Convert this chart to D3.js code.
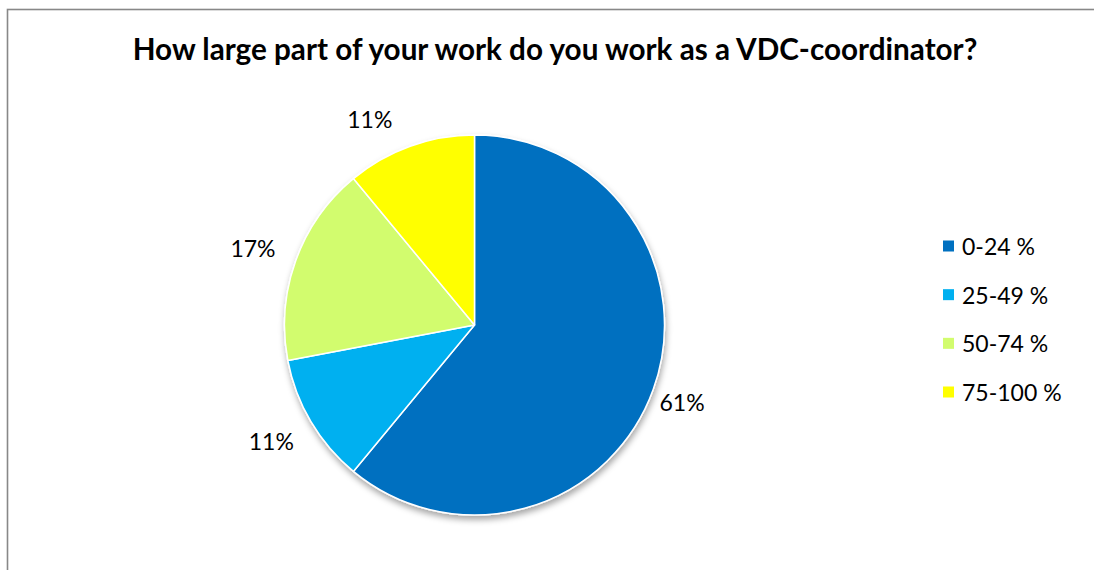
<!DOCTYPE html>
<html>
<head>
<meta charset="utf-8">
<script src="https://cdn.jsdelivr.net/npm/d3@7"></script>
<style>
  html, body { margin: 0; padding: 0; background: #fff; }
  svg { display: block; }
</style>
</head>
<body>
<svg id="chart" width="1094" height="570"></svg>
<script>
// Share of working time spent as VDC-coordinator
const categories = ["0-24 %", "25-49 %", "50-74 %", "75-100 %"];
const shares = [61, 11, 17, 11];
const sliceColors = ["#0070C0", "#00B0F0", "#D2FC6E", "#FFFF00"];
const titleText = "How large part of your work do you work as a VDC-coordinator?";

const W = 1094, H = 570;
const svg = d3.select("#chart");
const FONT = "Lato, 'Open Sans', sans-serif";

// chart area frame (runs off the right and bottom of the view)
svg.append("rect")
  .attr("x", 7.5).attr("y", 9.5)
  .attr("width", W + 20).attr("height", H + 20)
  .attr("fill", "#fff")
  .attr("stroke", "#888").attr("stroke-width", 1.6);

// title, sized to span its box
const title = svg.append("text")
  .attr("x", 555).attr("y", 60)
  .attr("text-anchor", "middle")
  .attr("font-family", FONT)
  .attr("font-weight", 700)
  .attr("font-size", 26)
  .attr("fill", "#000")
  .text(titleText);
{
  const w = title.node().getComputedTextLength();
  title.attr("font-size", 26 * 845 / w);
}

// drop shadow for the pie
const defs = svg.append("defs");
const f = defs.append("filter").attr("id", "pieShadow")
  .attr("x", "-10%").attr("y", "-10%").attr("width", "130%").attr("height", "130%");
f.append("feDropShadow")
  .attr("dx", 1).attr("dy", 4)
  .attr("stdDeviation", 3)
  .attr("flood-color", "#000").attr("flood-opacity", 0.35);

const cx = 474.5, cy = 325, radius = 190;
const pie = d3.pie().sort(null).value(d => d)(shares);
const arc = d3.arc().innerRadius(0).outerRadius(radius);
const color = d3.scaleOrdinal().domain(categories).range(sliceColors);

const g = svg.append("g").attr("transform", `translate(${cx},${cy})`);
g.append("g").attr("filter", "url(#pieShadow)")
  .selectAll("path")
  .data(pie)
  .join("path")
  .attr("d", arc)
  .attr("fill", (d, i) => color(categories[i]))
  .attr("stroke", "#fff")
  .attr("stroke-width", 1.5)
  .attr("stroke-linejoin", "round");

// data labels outside each slice
const labelR = 228, labelShiftX = -7;
const topLimit = 119 - cy; // keep labels below the title band
const labelPos = d => {
  let a = (d.startAngle + d.endAngle) / 2;
  let y = -labelR * Math.cos(a);
  if (y < topLimit) {
    const a0 = Math.acos(-topLimit / labelR);
    a = Math.sin(a) < 0 ? -a0 : a0;
    y = topLimit;
  }
  return [labelR * Math.sin(a) + labelShiftX, y];
};
g.selectAll("text.lbl")
  .data(pie)
  .join("text")
  .attr("class", "lbl")
  .attr("x", d => labelPos(d)[0])
  .attr("y", d => labelPos(d)[1])
  .attr("text-anchor", "middle")
  .attr("dominant-baseline", "central")
  .attr("font-family", FONT)
  .attr("font-size", 23)
  .attr("fill", "#000")
  .text(d => d.data + "%");

// legend
const legendY = d3.scalePoint().domain(categories).range([246, 392]);
const lg = svg.append("g");
const rows = lg.selectAll("g").data(categories).join("g")
  .attr("transform", d => `translate(943,${legendY(d)})`);
rows.append("rect")
  .attr("x", 0).attr("y", -5.5)
  .attr("width", 11).attr("height", 11)
  .attr("fill", d => color(d));
rows.append("text")
  .attr("x", 19).attr("y", 0)
  .attr("dominant-baseline", "central")
  .attr("font-family", FONT)
  .attr("font-size", 23)
  .attr("fill", "#000")
  .text(d => d);
</script>
</body>
</html>
